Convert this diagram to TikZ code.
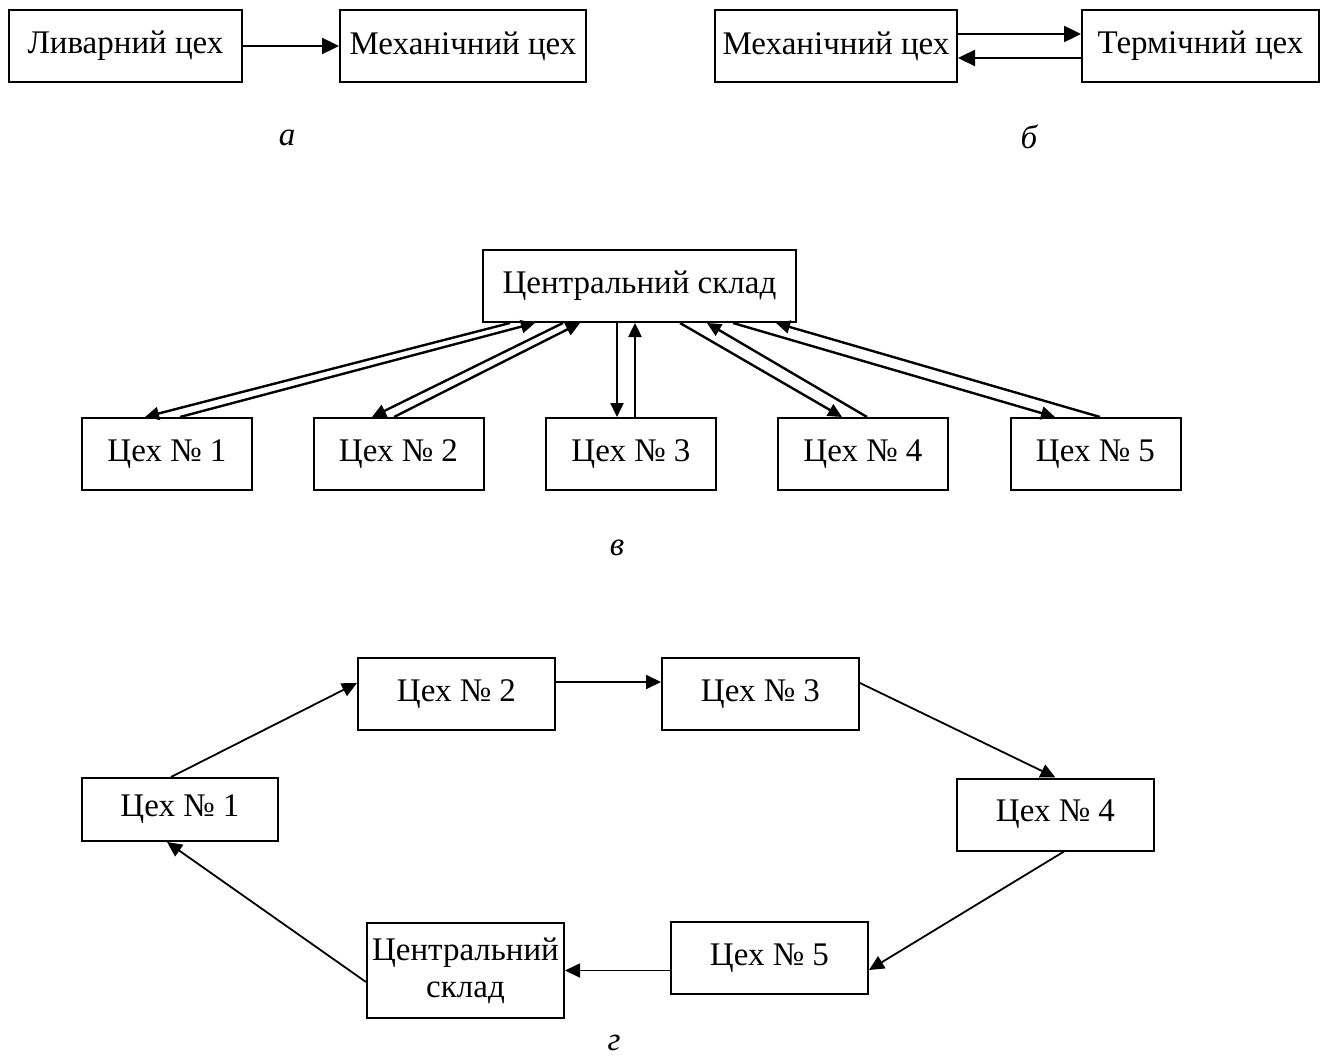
\documentclass[tikz,border=0pt]{standalone}
\usepackage{fontspec}
\setmainfont{Liberation Serif}
\usetikzlibrary{arrows.meta, calc}

\begin{document}
\begin{tikzpicture}[
x=0.5pt, y=-0.5pt,
box/.style={
rectangle,
draw,
line width=1pt,
inner sep=0pt,
minimum height=36pt,
align=center,
font=\fontsize{16.5}{18.5}\selectfont
},
arrow/.style={
-{Triangle[length=8.5pt,width=8pt]},
line width=1.2pt
},
link/.style={
-{Triangle[length=7pt,width=6.5pt]},
line width=1.2pt
},
flow/.style={
-{Triangle[length=7.5pt,width=7pt]},
line width=0.9pt
},
caption/.style={font=\fontsize{16.5}{18.5}\selectfont\itshape}
]
\useasboundingbox (0,0) rectangle (1322,1059);

% а
\node[box, minimum width=116.5pt] (lyvar) at (125.5,46) {Ливарний цех};
\node[box, minimum width=123pt] (mekha) at (463,46) {Механічний цех};
\draw[arrow] (lyvar) -- (mekha);
\node[caption] (capa) at (287,138) {а};

% б
\node[box, minimum width=121pt] (mekhb) at (836,46) {Механічний цех};
\node[box, minimum width=118.5pt] (term) at (1200.5,46) {Термічний цех};
\draw[arrow] ($(mekhb.east)+(0,-12)$) -- ($(term.west)+(0,-12)$);
\draw[arrow] ($(term.west)+(0,12)$) -- ($(mekhb.east)+(0,12)$);
\node[caption] (capb) at (1029,137) {б};

% в
\node[box, minimum width=156.5pt] (sklad) at (639.5,286) {Центральний склад};
\node[box, minimum width=85pt] (c1) at (167,454) {Цех № 1};
\node[box, minimum width=85pt] (c2) at (398.5,454) {Цех № 2};
\node[box, minimum width=85pt] (c3) at (631,454) {Цех № 3};
\node[box, minimum width=85pt] (c4) at (863,454) {Цех № 4};
\node[box, minimum width=85pt] (c5) at (1095.5,454) {Цех № 5};

\draw[link] ($(sklad.south)+(-129.5,0)$) -- ($(c1.north)+(-22,0)$);
\draw[link] ($(c1.north)+(13,0)$) -- ($(sklad.south)+(-104.5,0)$);
\draw[link] ($(sklad.south)+(-76.5,0)$) -- ($(c2.north)+(-26.5,0)$);
\draw[link] ($(c2.north)+(-4.5,0)$) -- ($(sklad.south)+(-59.5,0)$);
\draw[link] ($(sklad.south)+(-22.5,0)$) -- ($(c3.north)+(-14,0)$);
\draw[link] ($(c3.north)+(4,0)$) -- ($(sklad.south)+(-4.5,0)$);
\draw[link] ($(sklad.south)+(40.5,0)$) -- ($(c4.north)+(-21,0)$);
\draw[link] ($(c4.north)+(4,0)$) -- ($(sklad.south)+(67.5,0)$);
\draw[link] ($(sklad.south)+(93.5,0)$) -- ($(c5.north)+(-40.5,0)$);
\draw[link] ($(c5.north)+(4.5,0)$) -- ($(sklad.south)+(136.5,0)$);
\node[caption] (capv) at (617,548) {в};

% г
\node[box, minimum width=98pt, minimum height=31.5pt] (g1) at (180,809.5) {Цех № 1};
\node[box, minimum width=98.5pt] (g2) at (456.5,694) {Цех № 2};
\node[box, minimum width=98.5pt] (g3) at (760.5,694) {Цех № 3};
\node[box, minimum width=98.5pt] (g4) at (1055.5,814.5) {Цех № 4};
\node[box, minimum width=98.5pt] (g5) at (769.5,958) {Цех № 5};
\node[box, minimum width=98.5pt, minimum height=47.5pt] (gsklad) at (465.5,970.5) {Центральний\\склад};

\draw[flow] ($(g1.north)+(-9,0)$) -- ($(g2.west)+(0,-11)$);
\draw[flow] ($(g2.east)+(0,-12)$) -- ($(g3.west)+(0,-12)$);
\draw[flow] ($(g3.east)+(0,-11)$) -- (g4.north);
\draw[flow] ($(g4.south)+(8.5,0)$) -- ($(g5.east)+(0,12)$);
\draw[flow] (g5.west |- gsklad.east) -- (gsklad.east);
\draw[flow] ($(gsklad.west)+(0,11.5)$) -- ($(g1.south)+(-13,0)$);
\node[caption] (capg) at (614,1043) {г};

\end{tikzpicture}
\end{document}
